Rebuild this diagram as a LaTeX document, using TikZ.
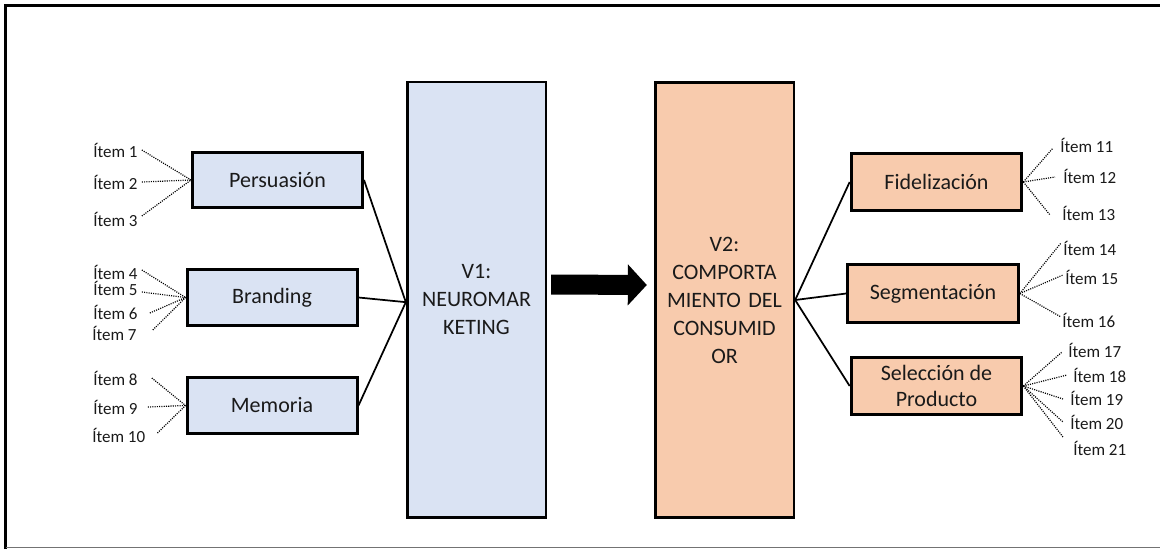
\documentclass[tikz,border=0pt]{standalone}
\usepackage{fontspec}
\setmainfont{Carlito}
\usetikzlibrary{arrows.meta}
\definecolor{boxblue}{HTML}{DAE3F3}
\definecolor{boxorange}{HTML}{F8CBAD}
\definecolor{txt}{HTML}{1A1A1A}
\tikzset{
  dim/.style={draw=black, line width=2.25pt, inner sep=0pt, text=txt,
    font=\fontsize{16.5}{20}\selectfont, align=center},
  dimL/.style={dim, fill=boxblue, minimum width=127.5pt, minimum height=41.5pt},
  dimR/.style={dim, fill=boxorange, minimum width=128pt, minimum height=43pt},
  var/.style={draw=black, line width=2pt, inner sep=0pt, text=txt,
    font=\fontsize{16.5}{21}\selectfont, align=center, text width=100pt,
    minimum width=104pt, minimum height=326.5pt},
  itemL/.style={anchor=west, inner sep=1.5pt, text=txt, font=\fontsize{12.75}{14}\selectfont},
  itemR/.style={itemL},
  link/.style={line width=1.3pt, black},
  dotlink/.style={line width=0.9pt, black, dash pattern=on 0.8pt off 0.9pt},
  bigarrow/.style={line width=15pt, black, -{Triangle[length=14.25pt, width=30pt]}}
}
\begin{document}
\begin{tikzpicture}[x=0.75pt, y=-0.75pt]
\useasboundingbox (0,0) rectangle (1160,550);
% page frame
\draw[line width=2.25pt] (5.5,549) -- (5.5,5.5) -- (1160,5.5);
\draw[line width=1pt, black!55] (5.5,547.5) -- (1160,547.5);

% main variables
\node[var, fill=boxblue]   (v1) at (476.5,299.5) {V1:\\NEUROMAR\\KETING};
\node[var, fill=boxorange] (v2) at (724.5,300)   {V2:\\COMPORTA\\MIENTO DEL\\CONSUMID\\OR};
\draw[bigarrow] ([shift={(4,-15)}]v1.east) -- ([shift={(-7,-15)}]v2.west);

% dimensions of V1
\node[dimL] (pers) at (277.5,180)   {Persuasión};
\node[dimL] (bran) at (272,297.5)   {Branding};
\node[dimL] (memo) at (272,405.5)   {Memoria};
% dimensions of V2
\node[dimR] (fide) at (936.5,182)   {Fidelización};
\node[dimR] (segm) at (933,293.5)   {Segmentación};
\node[dimR] (sele) at (936.5,386)   {Selección de\\Producto};

\draw[link] (pers.east) -- ([yshift=-2]v1.west);
\draw[link] (bran.east) -- ([yshift=-2]v1.west);
\draw[link] (memo.east) -- ([yshift=-2]v1.west);
\draw[link] (fide.west) -- (v2.east);
\draw[link] (segm.west) -- (v2.east);
\draw[link] (sele.west) -- (v2.east);

% items of V1
\node[itemL] (i1)  at (91,150) {Ítem 1};
\node[itemL] (i2)  at (91,182) {Ítem 2};
\node[itemL] (i3)  at (91,219) {Ítem 3};
\node[itemL] (i4)  at (91,272) {Ítem 4};
\node[itemL] (i5)  at (91,288) {Ítem 5};
\node[itemL] (i6)  at (91,312) {Ítem 6};
\node[itemL] (i7)  at (90,333) {Ítem 7};
\node[itemL] (i8)  at (91,378) {Ítem 8};
\node[itemL] (i9)  at (91,407) {Ítem 9};
\node[itemL] (i10) at (90,435) {Ítem 10};

\draw[dotlink] ([shift={(2,0)}]i1.east)   -- (pers.west);
\draw[dotlink] ([shift={(2,0)}]i2.east)   -- (pers.west);
\draw[dotlink] ([shift={(2,-3)}]i3.east)  -- (pers.west);
\draw[dotlink] ([shift={(2,-2)}]i4.east)  -- (bran.west);
\draw[dotlink] ([shift={(2,4)}]i5.east)   -- (bran.west);
\draw[dotlink] ([shift={(10,1)}]i6.east)  -- (bran.west);
\draw[dotlink] ([shift={(14,-3)}]i7.east) -- (bran.west);
\draw[dotlink] ([shift={(12,0)}]i8.east)  -- (memo.west);
\draw[dotlink] ([shift={(8,0)}]i9.east)   -- (memo.west);
\draw[dotlink] ([shift={(10,-2)}]i10.east) -- (memo.west);

% items of V2
\node[itemR] (i11) at (1058,145) {Ítem 11};
\node[itemR] (i12) at (1061,176) {Ítem 12};
\node[itemR] (i13) at (1060,213) {Ítem 13};
\node[itemR] (i14) at (1061,248) {Ítem 14};
\node[itemR] (i15) at (1063,277) {Ítem 15};
\node[itemR] (i16) at (1060,320) {Ítem 16};
\node[itemR] (i17) at (1066,350) {Ítem 17};
\node[itemR] (i18) at (1071,375) {Ítem 18};
\node[itemR] (i19) at (1068,398) {Ítem 19};
\node[itemR] (i20) at (1068,422) {Ítem 20};
\node[itemR] (i21) at (1071,448) {Ítem 21};

\draw[dotlink] (fide.east) -- ([shift={(-5,3)}]i11.west);
\draw[dotlink] (fide.east) -- ([shift={(-6,1)}]i12.west);
\draw[dotlink] (fide.east) -- ([shift={(-10,2)}]i13.west);
\draw[dotlink] (segm.east) -- ([shift={(0,-5)}]i14.west);
\draw[dotlink] (segm.east) -- ([shift={(0,-2)}]i15.west);
\draw[dotlink] (segm.east) -- ([shift={(1,-3)}]i16.west);
\draw[dotlink] (sele.east) -- ([shift={(-4,2)}]i17.west);
\draw[dotlink] (sele.east) -- ([shift={(-4,0)}]i18.west);
\draw[dotlink] (sele.east) -- ([shift={(-5,1)}]i19.west);
\draw[dotlink] (sele.east) -- ([shift={(-5,0)}]i20.west);
\draw[dotlink] (sele.east) -- ([shift={(-8,-11)}]i21.west);
\end{tikzpicture}
\end{document}
